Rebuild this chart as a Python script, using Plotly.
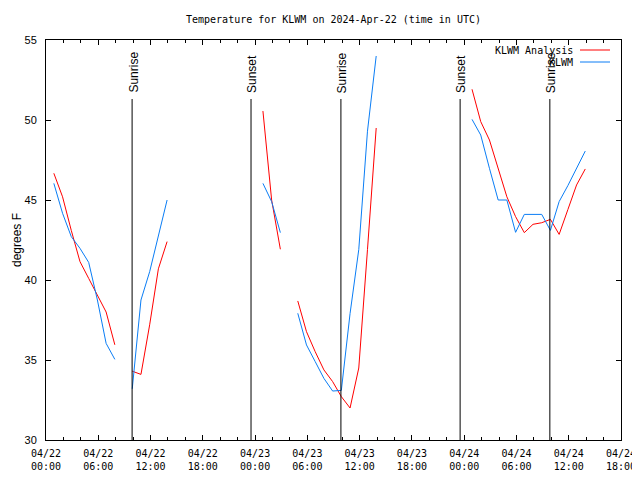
import plotly.graph_objects as go
import pandas as pd

# ---------------- data ----------------
first_obs = "2024-04-22 00:54"   # hourly observations
n_obs = 62

analysis_temps = [46.67, 45.2, 43.1, 41.15, 40.1, 39.0, 38.0, 35.95,
                  None,
                  34.3, 34.1, 37.2, 40.7, 42.4,
                  None, None, None, None, None, None, None, None, None, None,
                  50.56, 45.0, 41.92,
                  None,
                  38.69, 36.77, 35.52, 34.38, 33.65, 32.71, 32.0, 34.5, 41.9, 49.5,
                  None, None, None, None, None, None, None, None, None, None,
                  51.92, 49.9, 48.75, 46.9, 45.2, 43.96, 42.96, 43.48, 43.58, 43.79,
                  42.85, 44.4, 45.94, 46.94]

station_temps = [46.04, 44.17, 42.71, 41.98, 41.1, 38.75, 36.04, 35.04,
                 None,
                 33.2, 38.75, 40.52, 42.7, 45.0,
                 None, None, None, None, None, None, None, None, None, None,
                 46.04, 44.9, 42.96,
                 None,
                 37.92, 35.94, 34.9, 33.85, 33.06, 33.1, 37.9, 41.9, 49.3, 54.0,
                 None, None, None, None, None, None, None, None, None, None,
                 50.04, 49.06, 46.98, 45.0, 45.0, 42.98, 44.1, 44.1, 44.1, 43.1,
                 44.9, 45.9, 46.98, 48.06]

series_names = ["KLWM Analysis", "KLWM"]
series_colors = ["#ff0000", "#0a7df5"]

event_times = ["2024-04-22 09:53", "2024-04-22 23:32", "2024-04-23 09:51",
               "2024-04-23 23:32", "2024-04-24 09:50"]
event_labels = ["Sunrise", "Sunset", "Sunrise", "Sunset", "Sunrise"]

tick_times = ["2024-04-22 00:00", "2024-04-22 06:00", "2024-04-22 12:00", "2024-04-22 18:00",
              "2024-04-23 00:00", "2024-04-23 06:00", "2024-04-23 12:00", "2024-04-23 18:00",
              "2024-04-24 00:00", "2024-04-24 06:00", "2024-04-24 12:00", "2024-04-24 18:00"]
tick_labels = ["04/22<br>00:00", "04/22<br>06:00", "04/22<br>12:00", "04/22<br>18:00",
               "04/23<br>00:00", "04/23<br>06:00", "04/23<br>12:00", "04/23<br>18:00",
               "04/24<br>00:00", "04/24<br>06:00", "04/24<br>12:00", "04/24<br>18:00"]

x_range = ["2024-04-22 00:00", "2024-04-24 18:00"]
y_range = [30, 55]

title_text = "Temperature for KLWM on 2024-Apr-22 (time in UTC)"
y_title = "degrees F"

# ---------------- figure ----------------
MONO = "DejaVu Sans Mono"
SANS = "Liberation Sans"

# the page body has an 8 px margin; lay out in screen pixels and subtract it
OFF = 8
W, H = 640 - OFF, 480 - OFF
PL, PR, PT, PB = 46, 621, 40, 440          # plot box in screen pixels
L, R, T, B = PL - OFF, W - (PR - OFF), PT - OFF, H - (PB - OFF)
pw, ph = W - L - R, H - T - B

def px_x(px):
    return (px - PL) / (PR - PL)

def px_y(py):
    return (PB - py) / (PB - PT)

def py_val(py):
    return y_range[1] - (py - PT) / (PB - PT) * (y_range[1] - y_range[0])

times = pd.date_range(first_obs, periods=n_obs, freq="h")

fig = go.Figure()
for name, vals, col in zip(series_names, [analysis_temps, station_temps], series_colors):
    fig.add_trace(go.Scatter(x=times, y=vals, mode="lines", name=name,
                             line=dict(color=col, width=1), connectgaps=False,
                             showlegend=False))

shapes = []
annotations = []
for t, lab in zip(event_times, event_labels):
    shapes.append(dict(type="line", xref="x", yref="y", x0=t, x1=t,
                       y0=y_range[0], y1=py_val(99), line=dict(color="black", width=1)))
    annotations.append(dict(x=t, y=py_val(95), xref="x", yref="y", text=lab,
                            textangle=-90, showarrow=False, xanchor="center",
                            yanchor="bottom", xshift=1,
                            font=dict(family=SANS, size=12, color="black")))

# legend (gnuplot style: text right-aligned, sample line on the right)
for i, (name, col) in enumerate(zip(series_names, series_colors)):
    yy = 50 + 12 * i
    annotations.append(dict(x=px_x(575), y=px_y(yy), xref="paper", yref="paper",
                            text=name, showarrow=False, xanchor="right", yanchor="middle",
                            font=dict(family=MONO, size=10, color="black")))
    shapes.append(dict(type="line", xref="paper", yref="paper",
                       x0=px_x(580), x1=px_x(610), y0=px_y(yy), y1=px_y(yy),
                       line=dict(color=col, width=1)))

# y-axis title (kept inside the figure)
annotations.append(dict(x=px_x(OFF), y=0.5, xref="paper", yref="paper", text=y_title,
                        textangle=-90, showarrow=False, xanchor="left", yanchor="middle",
                        font=dict(family=SANS, size=12, color="black")))

fig.update_layout(
    width=W, height=H,
    margin=dict(l=L, r=R, t=T, b=B, pad=0, autoexpand=False),
    plot_bgcolor="white", paper_bgcolor="white",
    showlegend=False,
    title=dict(text=title_text, x=0.5, xref="paper", xanchor="center",
               y=1 - (19 - OFF) / H, yref="container", yanchor="middle", automargin=False,
               font=dict(family=MONO, size=10, color="black")),
    shapes=shapes, annotations=annotations,
)
fig.update_xaxes(type="date", range=x_range, tickmode="array", tickvals=tick_times,
                 ticktext=tick_labels, ticks="inside", ticklen=5, tickcolor="black",
                 showline=True, linecolor="black", linewidth=1, mirror="ticks",
                 showgrid=False, zeroline=False, automargin=False, ticklabelstandoff=4,
                 tickfont=dict(family=MONO, size=10, color="black"),
                 minor=dict(ticks="inside", ticklen=3, dtick=2 * 3600000,
                            tick0="2024-04-22 00:00", tickcolor="black", showgrid=False))
fig.update_yaxes(range=y_range, tickmode="linear", tick0=30, dtick=5,
                 ticks="inside", ticklen=5, tickcolor="black",
                 showline=True, linecolor="black", linewidth=1, mirror="ticks",
                 showgrid=False, zeroline=False, ticklabelstandoff=6, automargin=False,
                 tickfont=dict(family=SANS, size=11, color="black"))

fig.write_html("out.html")
